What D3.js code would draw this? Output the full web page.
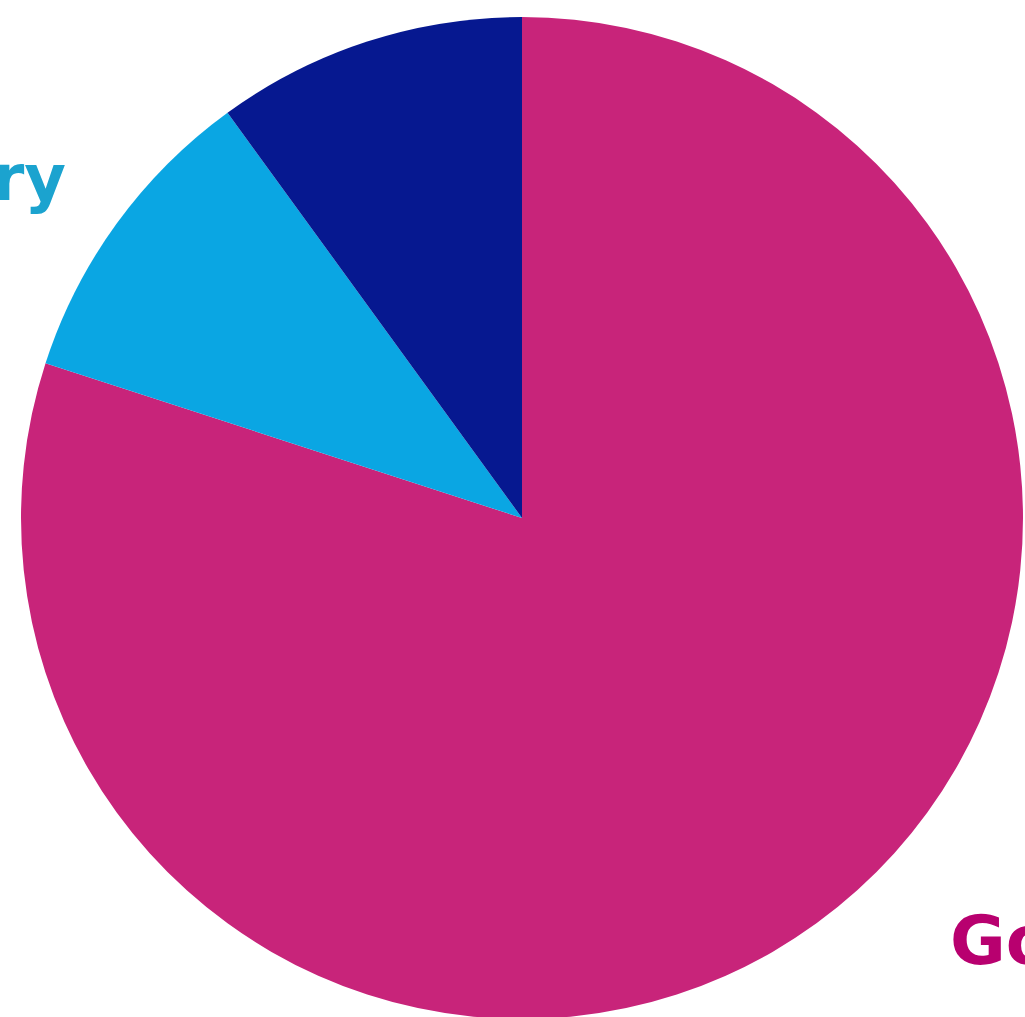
<!DOCTYPE html>
<html>
<head>
<meta charset="UTF-8">
<script src="https://d3js.org/d3.v7.min.js"></script>
<style>
  body { margin: 0; background: #fff; }
  svg { display: block; }
</style>
</head>
<body>
<div id="chart"></div>
<script>
// slice data, clockwise from 12 o'clock
const categories = ["Government", "Tertiary", "Business"];
const values = [80, 10, 10];
const colors = ["#c8247a", "#0aa6e3", "#061890"];
// visible labels (cropped by the frame)
const labelText = ["Tertiary", "Government"];
const labelColors = ["#1ba3cf", "#b8006f"];

const width = 1025, height = 1017;
const cx = 522, cy = 518, radius = 501;

const svg = d3.select("#chart").append("svg")
    .attr("width", width)
    .attr("height", height);

const pie = d3.pie().sort(null).value(d => d);
const arc = d3.arc().innerRadius(0).outerRadius(radius);

const g = svg.append("g").attr("transform", `translate(${cx},${cy})`);
g.selectAll("path")
    .data(pie(values))
    .enter().append("path")
    .attr("d", arc)
    .attr("fill", (d, i) => colors[i]);

// labels sit outside the pie and run off the edge of the picture
svg.append("text")
    .attr("x", 66)
    .attr("y", 200)
    .attr("text-anchor", "end")
    .style("font-family", "'DejaVu Sans', sans-serif")
    .style("font-weight", 700)
    .style("font-size", "64px")
    .attr("fill", labelColors[0])
    .text(labelText[0]);

svg.append("text")
    .attr("x", 950)
    .attr("y", 964)
    .attr("text-anchor", "start")
    .style("font-family", "'DejaVu Sans', sans-serif")
    .style("font-weight", 700)
    .style("font-size", "68px")
    .attr("fill", labelColors[1])
    .text(labelText[1]);
</script>
</body>
</html>
